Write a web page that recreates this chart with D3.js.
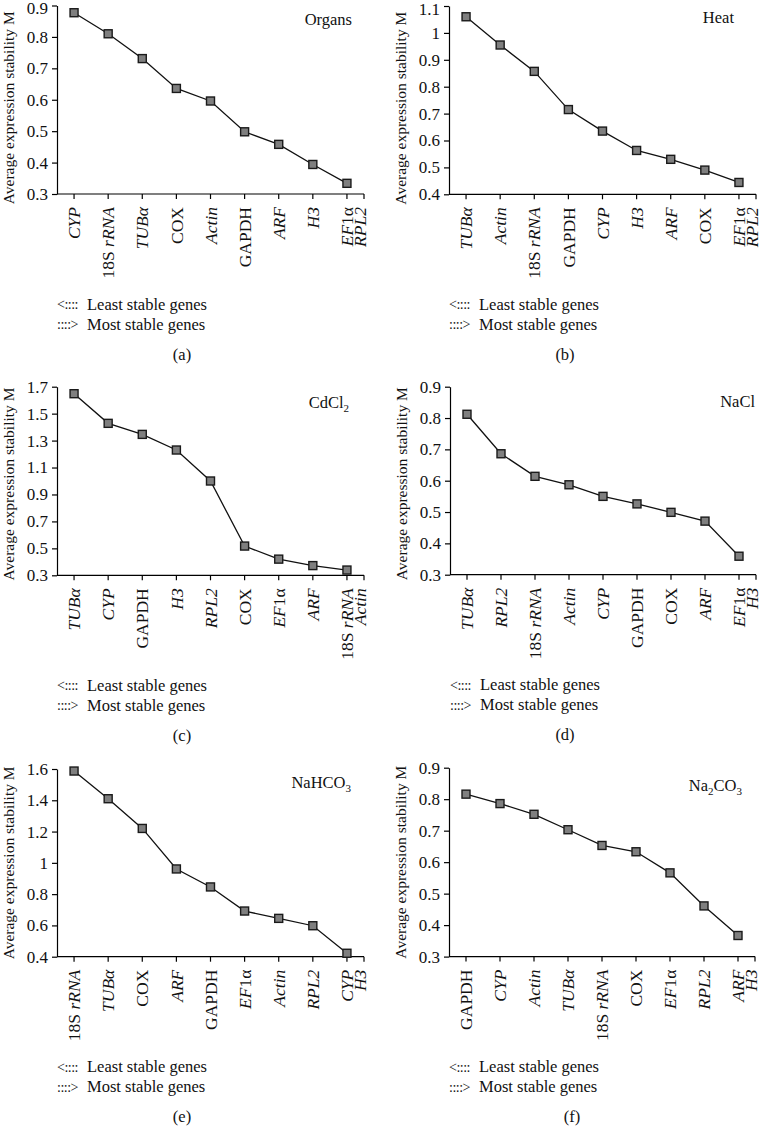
<!DOCTYPE html>
<html><head><meta charset="utf-8">
<script src="https://cdn.jsdelivr.net/npm/d3@7"></script>
<style>
html,body{margin:0;padding:0;background:#fff;}
svg{display:block;font-family:"Liberation Serif","Times New Roman",serif;}
</style></head>
<body>
<svg id="chart" width="761" height="1126"></svg>
<script>
// ---------- DATA ----------
const organsGenes = ["CYP","18S rRNA","TUBα","COX","Actin","GAPDH","ARF","H3","EF1α|RPL2"];
const organsM     = [0.877,0.810,0.731,0.636,0.596,0.498,0.458,0.394,0.334];
const organsTicks = [0.3,0.4,0.5,0.6,0.7,0.8,0.9];

const heatGenes = ["TUBα","Actin","18S rRNA","GAPDH","CYP","H3","ARF","COX","EF1α|RPL2"];
const heatM     = [1.060,0.955,0.857,0.715,0.635,0.563,0.530,0.490,0.444];
const heatTicks = [0.4,0.5,0.6,0.7,0.8,0.9,1.0,1.1];

const cdGenes = ["TUBα","CYP","GAPDH","H3","RPL2","COX","EF1α","ARF","18S rRNA|Actin"];
const cdM     = [1.648,1.428,1.346,1.230,1.000,0.517,0.420,0.372,0.339];
const cdTicks = [0.3,0.5,0.7,0.9,1.1,1.3,1.5,1.7];

const naclGenes = ["TUBα","RPL2","18S rRNA","Actin","CYP","GAPDH","COX","ARF","EF1α|H3"];
const naclM     = [0.812,0.686,0.614,0.587,0.550,0.526,0.499,0.471,0.359];
const naclTicks = [0.3,0.4,0.5,0.6,0.7,0.8,0.9];

const bicarbGenes = ["18S rRNA","TUBα","COX","ARF","GAPDH","EF1α","Actin","RPL2","CYP|H3"];
const bicarbM     = [1.587,1.410,1.220,0.961,0.846,0.692,0.645,0.598,0.422];
const bicarbTicks = [0.4,0.6,0.8,1.0,1.2,1.4,1.6];

const carbGenes = ["GAPDH","CYP","Actin","TUBα","18S rRNA","COX","EF1α","RPL2","ARF|H3"];
const carbM     = [0.816,0.786,0.752,0.703,0.653,0.633,0.566,0.461,0.367];
const carbTicks = [0.3,0.4,0.5,0.6,0.7,0.8,0.9];

const yTitle = "Average expression stability M";
const legendLeast = ["<::::", "Least stable genes"];
const legendMost  = ["::::>", "Most stable genes"];

// ---------- LAYOUT ----------
const panels = [
  {genes:organsGenes, vals:organsM, ticks:organsTicks, title:[["Organs",false]], cap:"(a)",
   ax:57, ax2:364, yT:5.5, yB:194, tX:352, tY:25, capX:182, tOff:8},
  {genes:heatGenes, vals:heatM, ticks:heatTicks, title:[["Heat",false]], cap:"(b)",
   ax:449, ax2:756, yT:6, yB:194.3, tX:734, tY:23, capX:565, tOff:8},
  {genes:cdGenes, vals:cdM, ticks:cdTicks, title:[["CdCl",false],["2",true]], cap:"(c)",
   ax:57, ax2:364, yT:386.7, yB:575.3, tX:349, tY:408, capX:182, tOff:3},
  {genes:naclGenes, vals:naclM, ticks:naclTicks, title:[["NaCl",false]], cap:"(d)",
   ax:450, ax2:756, yT:386.7, yB:574.7, tX:755, tY:407, capX:565, tOff:3},
  {genes:bicarbGenes, vals:bicarbM, ticks:bicarbTicks, title:[["NaHCO",false],["3",true]], cap:"(e)",
   ax:57, ax2:364, yT:769, yB:956.7, tX:351, tY:788, capX:182, tOff:0},
  {genes:carbGenes, vals:carbM, ticks:carbTicks, title:[["Na",false],["2",true],["CO",false],["3",true]], cap:"(f)",
   ax:449, ax2:755, yT:767.7, yB:956.6, tX:742, tY:791, capX:572, tOff:0}
];

const svg = d3.select("#chart");

function geneSegments(name){
  if(name === "18S rRNA") return [["18S ", false],["rRNA", true]];
  if(name === "COX") return [["COX", false]];
  if(name === "GAPDH") return [["GAPDH", false]];
  if(name === "EF1α") return [["EF", true],["1α", false]];
  return [[name, true]];
}

panels.forEach(p => {
  const g = svg.append("g");
  const x = d3.scaleBand().domain(p.genes).range([p.ax, p.ax2]).padding(0);
  const cx = d => x(d) + x.bandwidth()/2;
  const y = d3.scaleLinear().domain([p.ticks[0], p.ticks[p.ticks.length-1]]).range([p.yB, p.yT]);

  // y axis
  const yAxis = d3.axisLeft(y).tickValues(p.ticks).tickSize(5).tickSizeOuter(0)
    .tickFormat(d => Math.abs(d-1) < 1e-9 ? "1" : d3.format(".1f")(d));
  const yg = g.append("g").attr("transform", `translate(${p.ax},0)`).call(yAxis);
  yg.select(".domain").attr("stroke","#000").attr("stroke-width",1.2);
  yg.selectAll(".tick line").attr("stroke","#000").attr("stroke-width",1.2);
  yg.selectAll(".tick text").attr("font-size",17).attr("fill","#111")
    .attr("font-family","Liberation Serif, serif").attr("x",-9)
    .attr("y", d => y(d) < 8 ? 2.6 : 0);

  // x axis line and ticks
  const xPos = p.genes.map(cx).concat([p.ax2]);
  g.append("line").attr("x1",p.ax).attr("x2",p.ax2).attr("y1",p.yB).attr("y2",p.yB)
    .attr("stroke","#000").attr("stroke-width",1.2);
  g.selectAll("line.xt").data(xPos).enter().append("line").attr("class","xt")
    .attr("x1",d=>d).attr("x2",d=>d).attr("y1",p.yB).attr("y2",p.yB+5)
    .attr("stroke","#000").attr("stroke-width",1.2);

  // x labels (rotated)
  p.genes.forEach(gene => {
    const lines = gene.split("|");
    const t = g.append("text")
      .attr("transform", `translate(${cx(gene)},${p.yB+13}) rotate(-90)`)
      .attr("text-anchor","end").attr("font-size",17.5).attr("fill","#111");
    lines.forEach((ln, li) => {
      const tl = t.append("tspan").attr("x",0).attr("dy", li === 0 ? "0.35em" : "0.74em");
      geneSegments(ln).forEach(([s, it]) => {
        tl.append("tspan").attr("font-style", it ? "italic" : "normal").text(s);
      });
    });
  });

  // line
  const line = d3.line().x((d,i)=>cx(p.genes[i])).y(d=>y(d));
  g.append("path").datum(p.vals).attr("d",line).attr("fill","none")
    .attr("stroke","#111").attr("stroke-width",1.3);
  // markers
  const s = 8;
  g.selectAll("rect.m").data(p.vals).enter().append("rect").attr("class","m")
    .attr("x",(d,i)=>cx(p.genes[i])-s/2).attr("y",d=>y(d)-s/2)
    .attr("width",s).attr("height",s).attr("fill","#7f7f7f")
    .attr("stroke","#1a1a1a").attr("stroke-width",1.4);

  // y title
  g.append("text")
    .attr("transform", `translate(${p.ax-48},${(p.yT+p.yB)/2+p.tOff}) rotate(-90)`)
    .attr("text-anchor","middle").attr("dy","0.35em").attr("font-size",15.5).attr("fill","#111")
    .text(yTitle);

  // panel title
  const tt = g.append("text").attr("x",p.tX).attr("y",p.tY).attr("text-anchor","end")
    .attr("font-size",16.5).attr("fill","#111");
  let prevSub = false;
  p.title.forEach(([s, sub]) => {
    if(sub) tt.append("tspan").attr("font-size",11).attr("dy",4).text(s);
    else tt.append("tspan").attr("dy", prevSub ? -4 : 0).text(s);
    prevSub = sub;
  });

  // legend
  [[legendLeast, 110],[legendMost, 130]].forEach(([lg, off]) => {
    g.append("text").attr("x",p.ax).attr("y",p.yB+off).attr("dy","0.35em")
      .attr("font-size",14).attr("fill","#111").attr("letter-spacing","-0.5").text(lg[0]);
    g.append("text").attr("x",p.ax+30).attr("y",p.yB+off).attr("dy","0.35em")
      .attr("font-size",16.5).attr("fill","#111").text(lg[1]);
  });

  // caption
  g.append("text").attr("x",p.capX).attr("y",p.yB+160).attr("dy","0.35em")
    .attr("text-anchor","middle").attr("font-size",16.5).attr("fill","#111").text(p.cap);
});
</script>
</body></html>
